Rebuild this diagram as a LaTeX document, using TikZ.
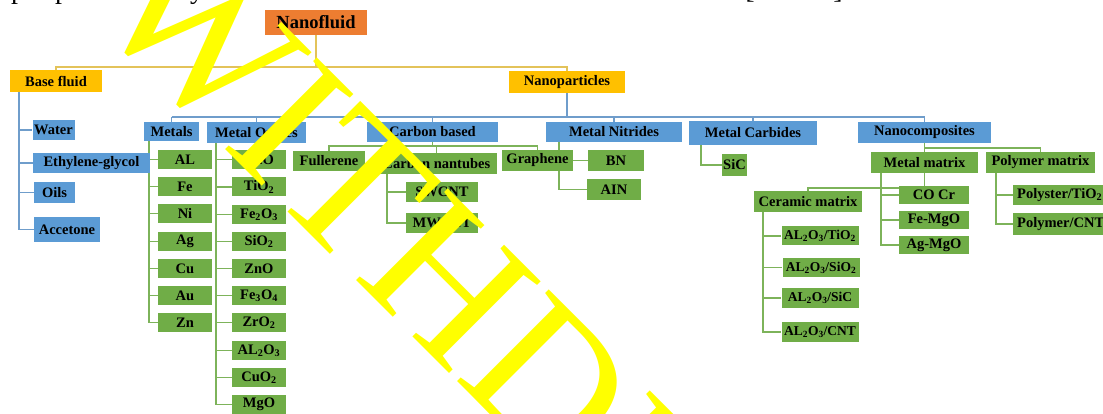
\documentclass[tikz,border=0pt]{standalone}
\usepackage{fontspec}
\setmainfont{Liberation Serif}
\pgfdeclarelayer{background}
\pgfsetlayers{background,main}
\definecolor{bblue}{HTML}{5B9BD5}
\definecolor{ggreen}{HTML}{70AD47}
\definecolor{ggold}{HTML}{FFC000}
\definecolor{oorange}{HTML}{ED7D31}
\definecolor{ylinec}{HTML}{E3C35A}
\definecolor{blinec}{HTML}{6F9DCB}
\definecolor{glinec}{HTML}{7DB35A}
\definecolor{wmyellow}{HTML}{FFFF00}
\newcommand{\subx}[1]{\textsubscript{#1}}
\tikzset{
  box/.style={inner sep=0pt, font=\bfseries\fontsize{14.5}{16}\selectfont, text=black},
  bbox/.style={box, fill=bblue},
  gbox/.style={box, fill=ggreen},
  ybox/.style={box, fill=ggold},
  smallbox/.style={gbox, font=\bfseries\fontsize{13.5}{15}\selectfont},
  sz/.style n args={2}{minimum width=#1pt, minimum height=#2pt},
  ln/.style={line width=1.6pt},
  yl/.style={ln, draw=ylinec},
  bl/.style={ln, draw=blinec},
  gl/.style={ln, draw=glinec},
  frag/.style={anchor=base, inner sep=0pt, font=\fontsize{28}{28}\selectfont, text=black},
  watermark/.style={rotate=-45, anchor=base west, inner sep=0pt, text=wmyellow,
    font=\mdseries\fontsize{198}{198}\selectfont}
}
\begin{document}
\begin{tikzpicture}[x=1pt, y=-1pt]
\useasboundingbox (0,0) rectangle (1103,414);
\clip (0,0) rectangle (1103,414);

% fragments of the cut-off line above
\node[frag] (f1) at (18,-1) {p};
\node[frag] (f2) at (62,-1) {p};
\node[frag] (f3) at (197,-1) {y};
\node[frag] (f4) at (750,-1) {[};
\node[frag] (f5) at (838,-1) {]};

% top levels
\node[box, fill=oorange, font=\bfseries\fontsize{18.5}{20}\selectfont, sz={102}{25}] (nf) at (316,22.5) {Nanofluid};
\node[ybox, sz={92}{22}] (bf) at (56,81) {Base fluid};
\node[ybox, sz={116}{22}] (np) at (567,82) {Nanoparticles};

% base fluids
\node[bbox, sz={42}{20}] (water) at (53.5,130) {Water};
\node[bbox, sz={117}{20}] (eg) at (91.5,163) {Ethylene-glycol};
\node[bbox, sz={41}{21}] (oils) at (54.5,192.5) {Oils};
\node[bbox, sz={66}{25}] (acc) at (67,229.5) {Accetone};

% categories
\node[bbox, sz={55}{19}] (met) at (171.5,131.5) {Metals};
\node[bbox, sz={99}{21}] (mo) at (256.5,132.5) {Metal Oxides};
\node[bbox, sz={131}{20}] (cb) at (432.5,132) {Carbon based};
\node[bbox, sz={136}{20}] (mn) at (614,132) {Metal Nitrides};
\node[bbox, sz={128}{24}] (mc) at (753,133) {Metal Carbides};
\node[bbox, sz={133}{21}] (nc) at (924.5,132.5) {Nanocomposites};

% metals
\foreach \t/\y/\n in {AL/159.5/m1, Fe/186.5/m2, Ni/213.5/m3, Ag/241.5/m4, Cu/268.5/m5, Au/295.5/m6, Zn/322.5/m7}
  \node[gbox, sz={54}{19}] (\n) at (185,\y) {\t};

% metal oxides
\foreach \t/\y/\n in {CuO/159.5/o1, TiO\subx{2}/187/o2, Fe\subx{2}O\subx{3}/214.5/o3, SiO\subx{2}/241.5/o4,
  ZnO/268.5/o5, Fe\subx{3}O\subx{4}/295.5/o6, ZrO\subx{2}/322.5/o7, AL\subx{2}O\subx{3}/350.5/o8,
  CuO\subx{2}/377.5/o9, MgO/404.5/o10}
  \node[gbox, sz={54}{19}] (\n) at (259,\y) {\t};

% carbon based
\node[gbox, sz={72}{20}] (ful) at (329,161) {Fullerene};
\node[gbox, sz={121}{21}] (cnt) at (436.5,163.5) {Carbon nantubes};
\node[gbox, sz={72}{20}] (sw) at (442,192) {SWCNT};
\node[gbox, sz={72}{20}] (mw) at (442,223) {MWCNT};
\node[gbox, sz={71}{21}] (gra) at (537.5,160.5) {Graphene};

% nitrides
\node[gbox, sz={56}{21}] (bn) at (616,160.5) {BN};
\node[gbox, sz={54}{21}] (aln) at (614,189.5) {AIN};

% carbides
\node[gbox, sz={25}{22}] (sic) at (734.5,165) {SiC};

% nanocomposites
\node[gbox, sz={107}{21}] (mm) at (924.5,162.5) {Metal matrix};
\node[gbox, sz={109}{21}] (pm) at (1040.5,162.5) {Polymer matrix};
\node[gbox, sz={70}{18}] (cocr) at (934,195) {CO Cr};
\node[gbox, sz={70}{18}] (femgo) at (934,220) {Fe-MgO};
\node[gbox, sz={70}{18}] (agmgo) at (934,245) {Ag-MgO};
\node[gbox, sz={108}{21}] (cer) at (808,201.5) {Ceramic matrix};
\node[smallbox, sz={77}{19}] (c1) at (820,236) {AL\subx{2}O\subx{3}/TiO\subx{2}};
\node[smallbox, sz={77}{19}] (c2) at (821,267.5) {AL\subx{2}O\subx{3}/SiO\subx{2}};
\node[smallbox, sz={77}{20}] (c3) at (820,298) {AL\subx{2}O\subx{3}/SiC};
\node[smallbox, sz={77}{20}] (c4) at (820,332) {AL\subx{2}O\subx{3}/CNT};
\node[gbox, anchor=west, text width=89pt, align=left, inner xsep=4pt, minimum height=20pt] (p1) at (1013,195) {Polyster/TiO\subx{2}};
\node[gbox, anchor=west, text width=89pt, align=left, inner xsep=4pt, minimum height=22pt] (p2) at (1013,224) {Polymer/CNT};

% connectors
\begin{pgfonlayer}{background}
  \coordinate (ybar) at (0,67);
  \draw[yl] (nf.south) -- (nf.south |- ybar);
  \draw[yl] (bf.north) -- (bf.north |- ybar) -- (np.north |- ybar) -- (np.north);

  \coordinate (bfx) at (19,0);
  \draw[bl] (bfx |- bf.south) -- (bfx |- acc.west) -- (acc.west);
  \foreach \n in {water, eg, oils} \draw[bl] (bfx |- \n.west) -- (\n.west);

  \coordinate (bbar) at (0,117);
  \draw[bl] (np.south) -- (np.south |- bbar);
  \draw[bl] (met.north |- bbar) -- (nc.north |- bbar);
  \foreach \n in {met, mo, cb, mn, mc, nc} \draw[bl] (\n.north |- bbar) -- (\n.north);

  \coordinate (mx) at (149,0);
  \draw[gl] (mx |- met.south) -- (mx |- m7.west);
  \foreach \n in {m1,m2,m3,m4,m5,m6,m7} \draw[gl] (mx |- \n.west) -- (\n.west);

  \coordinate (ox) at (216,0);
  \draw[gl] (ox |- mo.south) -- (ox |- o10.west);
  \foreach \n in {o1,o2,o3,o4,o5,o6,o7,o8,o9,o10} \draw[gl] (ox |- \n.west) -- (\n.west);

  \coordinate (cbar) at (0,146);
  \draw[gl] (cb.south) -- (cb.south |- cbar);
  \draw[gl] (ful.north) -- (ful.north |- cbar) -- (gra.north |- cbar) -- (gra.north);
  \draw[gl] (cnt.north |- cbar) -- (cnt.north);

  \coordinate (tx) at (387,0);
  \draw[gl] (tx |- cnt.south) -- (tx |- mw.west) -- (mw.west);
  \draw[gl] (tx |- sw.west) -- (sw.west);

  \coordinate (nx) at (559,0);
  \draw[gl] (nx |- mn.south) -- (nx |- aln.west) -- (aln.west);
  \draw[gl] (nx |- bn.west) -- (bn.west);

  \coordinate (kx) at (701,0);
  \draw[gl] (kx |- mc.south) -- (kx |- sic.west) -- (sic.west);

  \coordinate (nbar) at (0,148);
  \draw[gl] (nc.south) -- (nc.south |- nbar);
  \draw[gl] (mm.north) -- (mm.north |- nbar) -- (pm.north |- nbar) -- (pm.north);

  \coordinate (mmx) at (881,0);
  \draw[gl] (mmx |- mm.south) -- (mmx |- agmgo.west) -- (agmgo.west);
  \foreach \n in {cocr, femgo} \draw[gl] (mmx |- \n.west) -- (\n.west);

  \coordinate (kbar) at (0,188);
  \draw[gl] (mm.south) -- (mm.south |- kbar) -- (cer.north |- kbar) -- (cer.north);

  \coordinate (cx) at (763,0);
  \draw[gl] (cx |- cer.south) -- (cx |- c4.west) -- (c4.west);
  \foreach \n in {c1,c2,c3} \draw[gl] (cx |- \n.west) -- (\n.west);

  \coordinate (px) at (996,0);
  \draw[gl] (px |- pm.south) -- (px |- p2.west) -- (p2.west);
  \draw[gl] (px |- p1.west) -- (p1.west);
\end{pgfonlayer}

% watermark
\node[watermark] (wm) at (88,12) {WITHDRAWN};
\end{tikzpicture}
\end{document}
